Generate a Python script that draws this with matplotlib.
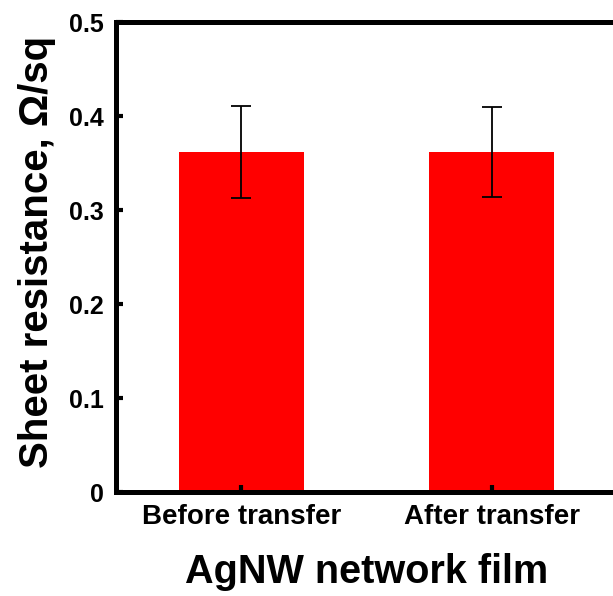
import numpy as np
import matplotlib
matplotlib.use("Agg")
import matplotlib.pyplot as plt

plt.rcParams['font.family'] = ['Liberation Sans', 'DejaVu Sans']
plt.rcParams['font.weight'] = 'bold'

categories = ["Before transfer", "After transfer"]
resistance = [0.362, 0.362]
resistance_err = [0.049, 0.048]

fig = plt.figure(figsize=(6.13, 5.96), dpi=100)
ax = fig.add_axes([116/613, 104/596, 501/613, 470/596])

x = np.arange(len(categories))
ax.bar(x, resistance, width=0.5, color='#ff0000', zorder=1)
ax.errorbar(x, resistance, yerr=resistance_err, fmt='none', ecolor='black',
            elinewidth=1.3, capsize=7, capthick=1.3, zorder=2)

ax.set_xlim(-0.5, 1.5)
ax.set_ylim(0, 0.5)
ax.set_yticks([0, 0.1, 0.2, 0.3, 0.4, 0.5])
ax.set_yticklabels(["0", "0.1", "0.2", "0.3", "0.4", "0.5"])
ax.set_xticks(x)
ax.set_xticklabels(categories)

for s in ax.spines.values():
    s.set_linewidth(3.6)
ax.tick_params(direction='in', length=5, width=3, labelsize=18, pad=9)
ax.tick_params(axis='x', labelsize=20, pad=9)
for lbl in ax.get_xticklabels() + ax.get_yticklabels():
    lbl.set_fontweight('bold')

ax.set_xlabel("AgNW network film", fontsize=28.5, fontweight='bold', labelpad=16)
ax.set_ylabel("Sheet resistance, Ω/sq", fontsize=29, fontweight='bold')
ax.yaxis.set_label_coords(-0.12, 0.51)

plt.savefig("out.png", dpi=100)
